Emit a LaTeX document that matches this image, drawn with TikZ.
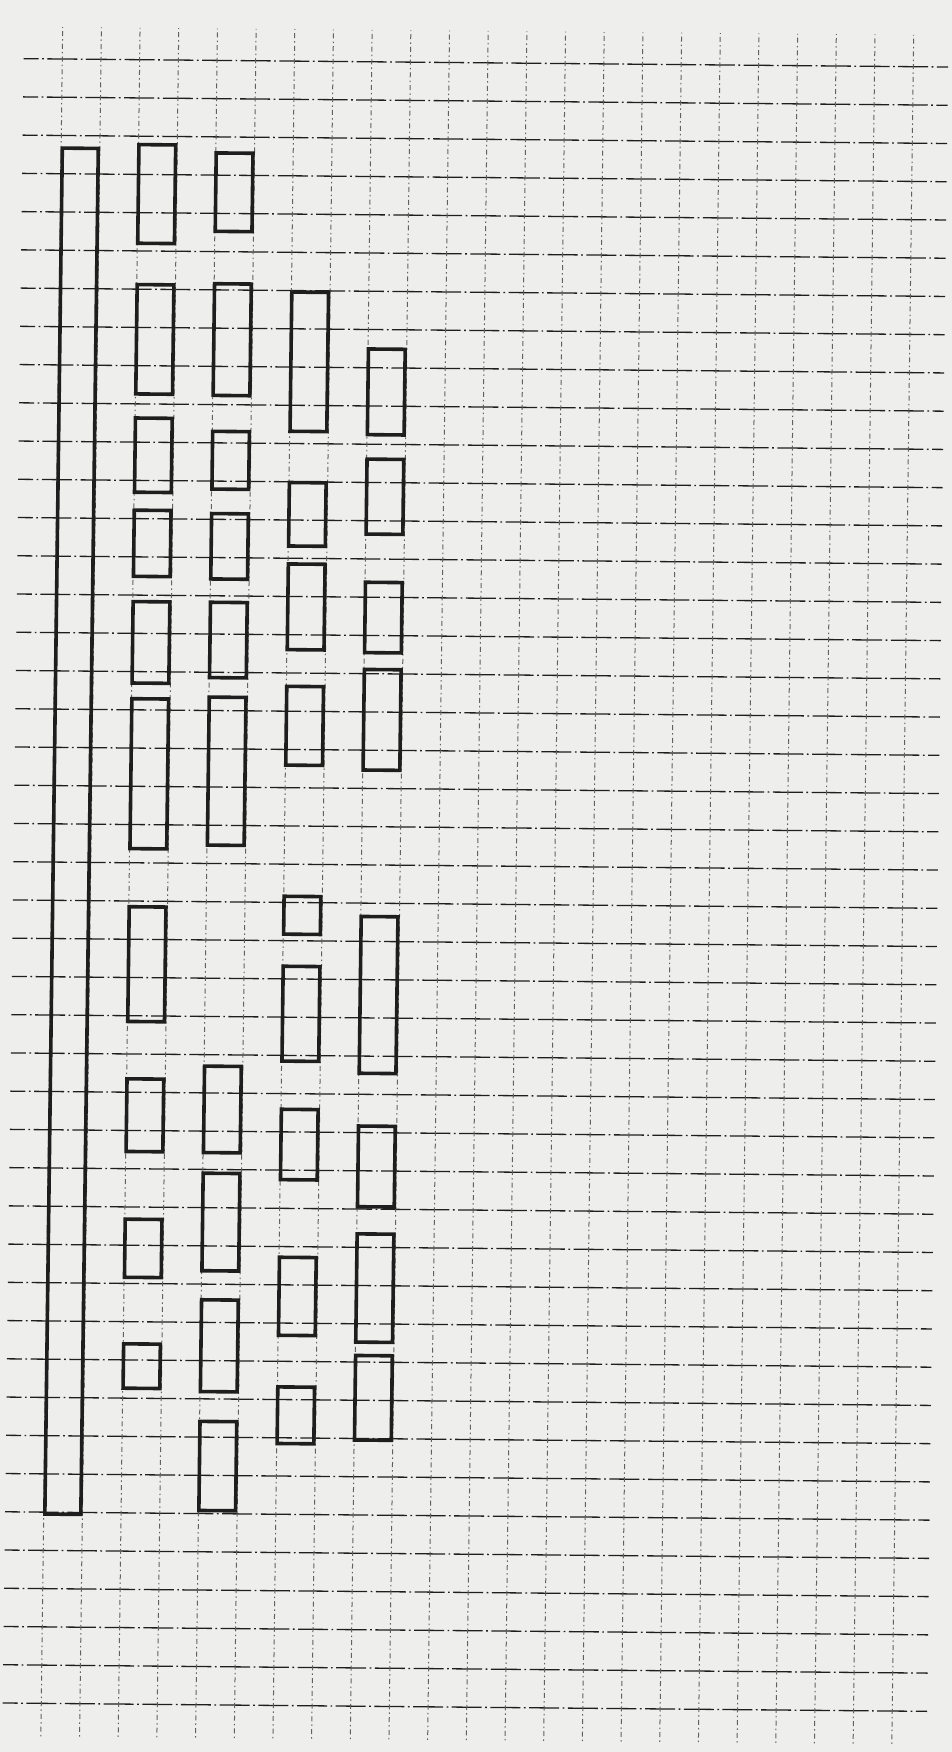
\documentclass[tikz,border=0pt]{standalone}
\definecolor{paper}{RGB}{238,238,236}
\definecolor{ink}{RGB}{30,30,30}
\tikzset{
  hline/.style={ink, line width=1.3pt, dash pattern=on 30pt off 3.5pt on 1.7pt off 3.48pt, dash phase=15pt},
  vline/.style={ink!70, line width=1pt, dash pattern=on 5pt off 3.125pt on 1.5pt off 3.125pt, dash phase=8.875pt},
  bar/.style={ink, line width=3.6pt, line join=miter}
}
\begin{document}
\begin{tikzpicture}
\fill[paper] (0pt,0pt) rectangle (952pt,-1752pt);
\useasboundingbox (0pt,0pt) rectangle (952pt,-1752pt);
\begin{scope}[x=1pt, y=1pt, cm={38.68,-0.35,-0.489,-38.24,(62.3pt,-59pt)}]
% Grid: dash-dot rows and columns
\foreach \j in {0,...,43} \draw[hline] (-1,\j) -- (22.9,\j);
\foreach \i in {0,...,22} \draw[vline] (\i,-0.8333) -- (\i,43.9);
% Long bar on the left
\draw[bar] (0.03,2.33) rectangle (0.96,38.05);
% Second column
\foreach \t/\b in {2.22/4.80, 5.88/8.74, 9.37/11.31, 11.78/13.51, 14.17/16.30, 16.71/20.63, 22.15/25.15, 26.65/28.55, 30.32/31.84, 33.58/34.74}
  \draw[bar] (2.01,\t) rectangle (2.96,\b);
% Third column
\foreach \t/\b in {2.42/4.47, 5.84/8.76, 9.70/11.21, 11.85/13.56, 14.17/16.14, 16.65/20.52, 26.30/28.56, 29.10/31.65, 32.41/34.81, 35.59/37.92}
  \draw[bar] (4.01,\t) rectangle (4.96,\b);
% Fourth column
\foreach \t/\b in {6.04/9.68, 11.02/12.68, 13.15/15.39, 16.35/18.41, 21.84/22.83, 23.67/26.15, 27.41/29.25, 31.28/33.32, 34.67/36.15}
  \draw[bar] (6.01,\t) rectangle (6.96,\b);
% Fifth column
\foreach \t/\b in {7.51/9.75, 10.39/12.35, 13.61/15.45, 15.89/18.52, 22.35/26.45, 27.83/29.94, 30.65/33.48, 33.83/36.04}
  \draw[bar] (8.01,\t) rectangle (8.96,\b);
\end{scope}
\end{tikzpicture}
\end{document}
